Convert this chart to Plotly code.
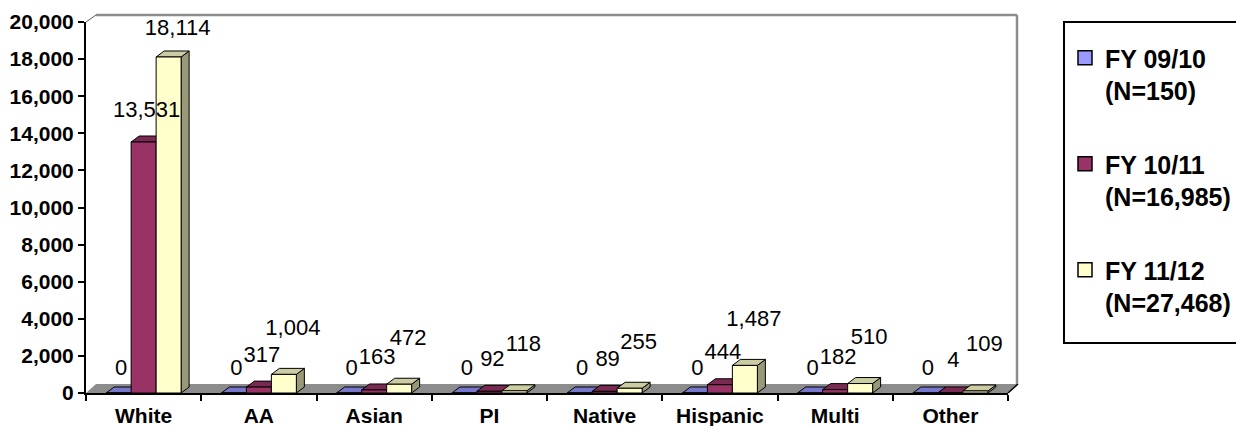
import plotly.graph_objects as go

# ---------------- data ----------------
categories = ["White", "AA", "Asian", "PI", "Native", "Hispanic", "Multi", "Other"]
series_names = ["FY 09/10<br>(N=150)", "FY 10/11<br>(N=16,985)", "FY 11/12<br>(N=27,468)"]
fy_0910 = [0, 0, 0, 0, 0, 0, 0, 0]
fy_1011 = [13531, 317, 163, 92, 89, 444, 182, 4]
fy_1112 = [18114, 1004, 472, 118, 255, 1487, 510, 109]
y_tick_values = [0, 2000, 4000, 6000, 8000, 10000, 12000, 14000, 16000, 18000, 20000]

# ---------------- styles / layout constants ----------------
W, H = 1236, 426
PL, PR, PT, PB = 86, 1008, 22, 393          # plot area in pixels
Y_MAX = 20000
N = len(categories)
UX = (PR - PL) / N                            # px per x unit
UY = (PB - PT) / Y_MAX                        # px per value unit

front_colors = ["#9999FF", "#993366", "#FFFFCC"]
top_colors = ["#7777CC", "#7A2952", "#CCCCA3"]
side_colors = ["#6666AA", "#5C1F3D", "#99997A"]
BAR_W = 25 / UX
DX = 8 / UX
DY = 6 / UY
label_dy_px = [24, 31, 45]
label_dx_px = [2.5, 3, 9]
LABEL_MAX_PX = 29
FONT = "Arial, Liberation Sans, sans-serif"


def paper_x(px):
    return (px - PL) / (PR - PL)


def paper_y(py):
    return (PB - py) / (PB - PT)


series_values = [fy_0910, fy_1011, fy_1112]

fig = go.Figure()

# ---- 3D bars: for each series draw side, top, front faces ----
for s, vals in enumerate(series_values):
    k = s - 1
    side_x, side_y, top_x, top_y, fr_x, fr_y = [], [], [], [], [], []
    for i, v in enumerate(vals):
        x0 = i + k * BAR_W - BAR_W / 2
        x1 = x0 + BAR_W
        side_x += [x1, x1 + DX, x1 + DX, x1, x1, None]
        side_y += [0, DY, v + DY, v, 0, None]
        top_x += [x0, x1, x1 + DX, x0 + DX, x0, None]
        top_y += [v, v, v + DY, v + DY, v, None]
        fr_x += [x0, x1, x1, x0, x0, None]
        fr_y += [0, 0, v, v, 0, None]
    for xs, ys, col in [(side_x, side_y, side_colors[s]),
                        (top_x, top_y, top_colors[s]),
                        (fr_x, fr_y, front_colors[s])]:
        fig.add_trace(go.Scatter(x=xs, y=ys, mode="lines", fill="toself",
                                 fillcolor=col, line=dict(color="black", width=1),
                                 hoverinfo="skip", showlegend=False))

# ---- data labels ----
for s, vals in enumerate(series_values):
    k = s - 1
    lx, ly, lt = [], [], []
    for i, v in enumerate(vals):
        lx.append(i + k * BAR_W + label_dx_px[s] / UX)
        ly.append(min(v + label_dy_px[s] / UY, (PB - LABEL_MAX_PX) / UY))
        lt.append(f"{v:,}")
    fig.add_trace(go.Scatter(x=lx, y=ly, text=lt, mode="text", textposition="middle center",
                             textfont=dict(family=FONT, size=22, color="black"),
                             cliponaxis=False, hoverinfo="skip", showlegend=False))

# ---- legend entries ----
for s in range(3):
    fig.add_trace(go.Scatter(x=[None], y=[None], mode="markers", name=series_names[s],
                             legendgroup=f"g{s}",
                             marker=dict(symbol="square", size=14, color=front_colors[s],
                                         line=dict(color="black", width=1.5))))

# ---- floor and walls ----
shapes = []
fl = [(PL, PB), (PR, PB), (PR + 10, PB - 9), (PL + 10, PB - 9)]
path = "M " + " L ".join(f"{paper_x(a)},{paper_y(b)}" for a, b in fl) + " Z"
shapes.append(dict(type="path", path=path, xref="paper", yref="paper",
                   fillcolor="#8C8C8C", line=dict(width=0), layer="below"))
shapes.append(dict(type="line", xref="paper", yref="paper",
                   x0=paper_x(PR), y0=paper_y(PB), x1=paper_x(PR + 10), y1=paper_y(PB - 9),
                   line=dict(color="black", width=1.5), layer="below"))
wall_col = "#8C8C8C"
shapes.append(dict(type="line", xref="paper", yref="paper",
                   x0=paper_x(PL + 10), y0=paper_y(PT - 7), x1=paper_x(PR + 9), y1=paper_y(PT - 7),
                   line=dict(color=wall_col, width=2.5), layer="below"))
shapes.append(dict(type="line", xref="paper", yref="paper",
                   x0=paper_x(PR + 9), y0=paper_y(PT - 7), x1=paper_x(PR + 9), y1=paper_y(PB - 9),
                   line=dict(color=wall_col, width=2.5), layer="below"))
shapes.append(dict(type="line", xref="paper", yref="paper",
                   x0=paper_x(PL), y0=paper_y(PT), x1=paper_x(PL + 10), y1=paper_y(PT - 7),
                   line=dict(color="#555555", width=1), layer="below"))
# legend box
shapes.append(dict(type="rect", xref="paper", yref="paper",
                   x0=paper_x(1064), y0=paper_y(343), x1=paper_x(1245), y1=paper_y(22),
                   line=dict(color="black", width=2), fillcolor="white", layer="below"))

fig.update_layout(
    width=W, height=H,
    margin=dict(l=PL, r=W - PR, t=PT, b=H - PB, pad=0, autoexpand=False),
    paper_bgcolor="white", plot_bgcolor="rgba(0,0,0,0)",
    shapes=shapes,
    showlegend=True,
    legend=dict(x=paper_x(1065), y=paper_y(35), xanchor="left", yanchor="top",
                bgcolor="rgba(0,0,0,0)", borderwidth=0, valign="top",
                tracegroupgap=38,
                font=dict(family=FONT, size=25, color="black", weight="bold")),
    xaxis=dict(range=[-0.5, N - 0.5], tickmode="array",
               tickvals=list(range(N)), ticktext=categories,
               ticks="outside", ticklen=3, tickcolor="rgba(0,0,0,0)",
               showline=True, linecolor="black", linewidth=2, automargin=False,
               showgrid=False, zeroline=False, fixedrange=True,
               tickfont=dict(family=FONT, size=21, color="black", weight="bold"),
               minor=dict(tickmode="array", tickvals=[i - 0.5 for i in range(N + 1)],
                          ticks="outside", ticklen=6, tickwidth=2, tickcolor="black",
                          showgrid=False)),
    yaxis=dict(range=[0, Y_MAX], tickmode="array", tickvals=y_tick_values,
               tickformat=",d", ticks="outside", ticklen=6, tickwidth=2, tickcolor="black",
               showline=True, linecolor="black", linewidth=2, automargin=False,
               showgrid=False, zeroline=False, fixedrange=True,
               tickfont=dict(family=FONT, size=21, color="black", weight="bold")),
)

fig.write_html(
    "out.html",
    config={"displayModeBar": False},
    post_script="document.documentElement.style.margin='0';"
                "document.documentElement.style.overflow='hidden';"
                "document.body.style.margin='0';document.body.style.padding='0';"
                "document.body.style.overflow='hidden';",
)
